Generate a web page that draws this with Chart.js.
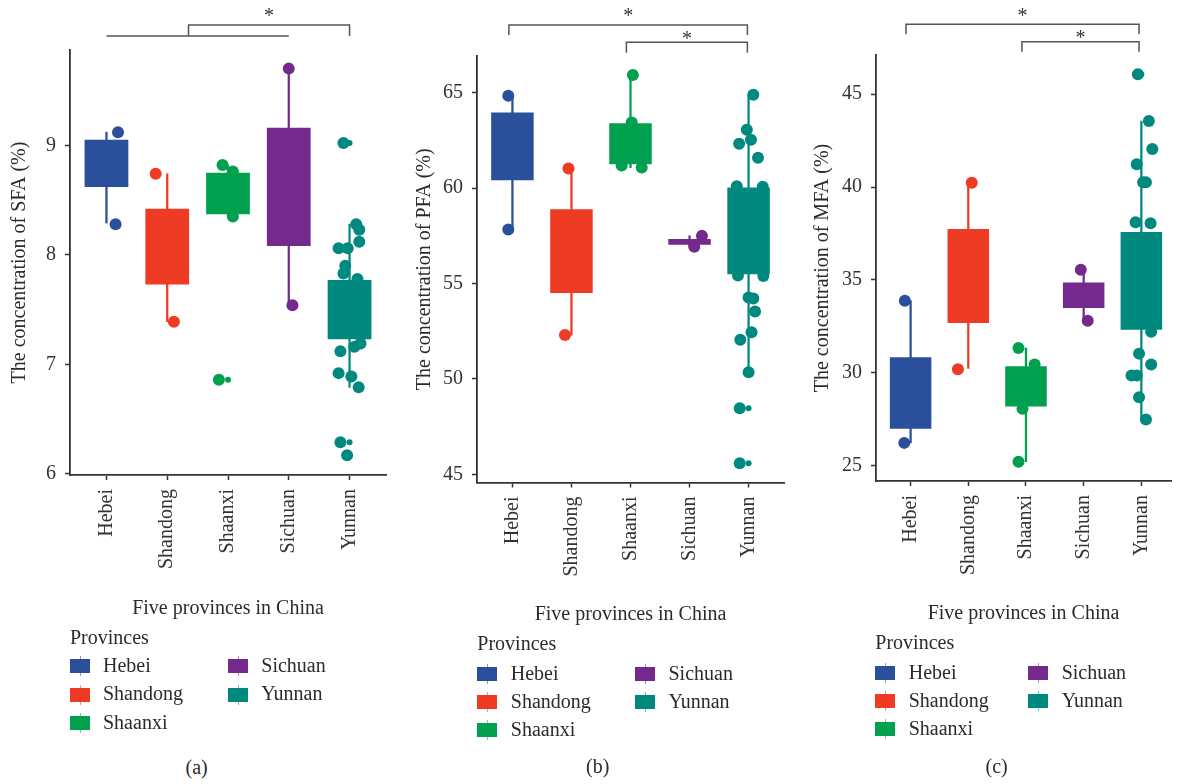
<!DOCTYPE html>
<html>
<head>
<meta charset="utf-8">
<title>Fatty acid composition in five provinces</title>
<script src="https://cdn.jsdelivr.net/npm/chart.js@4.4.1/dist/chart.umd.min.js"></script>
<style>
  html, body { margin: 0; padding: 0; background: #fff; }
  body {
    width: 1177px; height: 784px; position: relative; overflow: hidden;
    font-family: "Liberation Serif", "Times New Roman", serif; color: #2b2b2b;
  }
  canvas.panel { position: absolute; top: 0; }
  .txt { position: absolute; font-size: 20px; line-height: 24px; height: 24px; white-space: nowrap; }
  .key { position: absolute; width: 20px; height: 14px; }
  .key .stem { position: absolute; left: 9.5px; top: -3px; width: 1px; height: 20px; opacity: 0.55; }
</style>
</head>
<body>
<canvas id="sfa" class="panel" width="400" height="640" style="left:0px"></canvas>
<canvas id="pfa" class="panel" width="400" height="640" style="left:390px"></canvas>
<canvas id="mfa" class="panel" width="387" height="640" style="left:790px"></canvas>
<div id="legends"></div>

<script>
// ---- categories and colours ----
const provinces = ['Hebei', 'Shandong', 'Shaanxi', 'Sichuan', 'Yunnan'];
const provinceColors = ['#2A509C', '#EE3B24', '#00A04E', '#742A8C', '#00897F'];

// ---- (a) saturated fatty acids, % ----
const sfaTicks = [6, 7, 8, 9];
const sfaQ1 = [8.62, 7.73, 8.37, 8.08, 7.23];
const sfaQ3 = [9.05, 8.42, 8.75, 9.16, 7.77];
const sfaWhiskerLow = [8.29, 7.39, 8.36, 7.54, 6.79];
const sfaWhiskerHigh = [9.12, 8.74, 8.82, 9.70, 8.28];
const sfaSamples = [
  [9.12, 8.28],
  [8.74, 7.39],
  [8.82, 8.76, 8.35, 6.86],
  [9.70, 7.54],
  [9.02, 8.28, 8.23, 8.12, 8.06, 8.06, 7.90, 7.83, 7.78, 7.19, 7.12, 7.16, 6.92, 6.89, 6.79, 6.29, 6.17]
];
const sfaJitter = [
  [0.19, 0.15],
  [-0.19, 0.11],
  [-0.09, 0.08, 0.08, -0.15],
  [0.00, 0.06],
  [-0.10, 0.11, 0.16, 0.16, -0.18, -0.03, -0.07, -0.10, 0.13, 0.18, -0.15, 0.08, -0.18, 0.03, 0.15, -0.15, -0.04]
];
const sfaOutliers = [[], [], [6.86], [], [9.02, 6.29, 6.17]];

// ---- (b) polyunsaturated fatty acids, % ----
const pfaTicks = [45, 50, 55, 60, 65];
const pfaQ1 = [60.42, 54.50, 61.26, 57.03, 55.49];
const pfaQ3 = [63.97, 58.90, 63.41, 57.34, 60.03];
const pfaWhiskerLow = [57.83, 52.30, 61.08, 56.93, 50.35];
const pfaWhiskerHigh = [64.85, 61.03, 65.93, 57.50, 64.90];
const pfaSamples = [
  [64.85, 57.83],
  [61.03, 52.30],
  [65.93, 63.44, 61.19, 61.08],
  [57.50, 56.93],
  [64.90, 63.06, 62.54, 62.33, 61.60, 60.10, 60.08, 55.42, 55.40, 54.27, 54.22, 53.53, 52.45, 52.05, 50.35, 48.46, 45.58]
];
const pfaJitter = [
  [-0.07, -0.07],
  [-0.05, -0.11],
  [0.04, 0.02, -0.15, 0.19],
  [0.21, 0.08],
  [0.08, -0.03, 0.04, -0.16, 0.16, -0.20, 0.24, -0.18, 0.25, 0.00, 0.08, 0.11, 0.05, -0.14, 0.00, -0.15, -0.15]
];
const pfaOutliers = [[], [], [], [], [48.46, 45.58]];

// ---- (c) monounsaturated fatty acids, % ----
const mfaTicks = [25, 30, 35, 40, 45];
const mfaQ1 = [27.00, 32.69, 28.20, 33.49, 32.33];
const mfaQ3 = [30.84, 37.74, 30.36, 34.87, 37.58];
const mfaWhiskerLow = [26.24, 30.25, 25.23, 32.81, 27.50];
const mfaWhiskerHigh = [33.89, 40.23, 31.34, 35.55, 43.55];
const mfaSamples = [
  [33.89, 26.24],
  [40.23, 30.20],
  [31.34, 30.45, 28.08, 25.23],
  [35.55, 32.81],
  [46.07, 43.55, 42.04, 41.23, 40.25, 40.25, 38.10, 38.05, 32.22, 31.04, 30.45, 29.86, 29.86, 28.69, 27.50]
];
const mfaJitter = [
  [-0.10, -0.11],
  [0.06, -0.18],
  [-0.13, 0.15, -0.06, -0.13],
  [-0.05, 0.07],
  [-0.06, 0.13, 0.19, -0.08, 0.03, 0.08, -0.10, 0.16, 0.17, -0.04, 0.17, -0.17, -0.08, -0.04, 0.08]
];
const mfaOutliers = [[], [], [], [], [46.07]];

const xTitle = 'Five provinces in China';
const legendTitle = 'Provinces';

Chart.defaults.font.family = '"Liberation Serif", "Times New Roman", serif';
Chart.defaults.font.size = 20;
Chart.defaults.color = '#333';

// Significance brackets drawn above the plot area, anchored to the x scale
const sigBrackets = {
  id: 'sigBrackets',
  afterDraw(chart, args, opts) {
    const ctx = chart.ctx;
    const x = chart.scales.x;
    ctx.save();
    ctx.strokeStyle = '#555';
    ctx.lineWidth = 1.5;
    (opts.lines || []).forEach(l => {
      ctx.beginPath();
      ctx.moveTo(x.getPixelForValue(l.from), l.y);
      ctx.lineTo(x.getPixelForValue(l.to), l.y);
      ctx.stroke();
    });
    ctx.fillStyle = '#333';
    ctx.font = '20px "Liberation Serif", serif';
    ctx.textAlign = 'center';
    ctx.textBaseline = 'alphabetic';
    (opts.brackets || []).forEach(b => {
      const x1 = x.getPixelForValue(b.from);
      const x2 = x.getPixelForValue(b.to);
      ctx.beginPath();
      ctx.moveTo(x1, b.foot);
      ctx.lineTo(x1, b.top);
      ctx.lineTo(x2, b.top);
      ctx.lineTo(x2, b.foot);
      ctx.stroke();
      ctx.fillText('*', (x1 + x2) / 2, b.starY);
    });
    ctx.restore();
  }
};

function boxDatasets(q1, q3, wLo, wHi, samples, jitter, outliers) {
  const sets = [];
  provinces.forEach((name, i) => {
    sets.push({
      type: 'scatter',
      label: name,
      data: samples[i].map((v, k) => ({ x: i + jitter[i][k], y: v })),
      backgroundColor: provinceColors[i],
      borderWidth: 0,
      pointRadius: 6,
      order: 3
    });
  });
  sets.push({
    type: 'bar',
    label: 'whisker',
    data: provinces.map((p, i) => ({ x: i, y: [wLo[i], wHi[i]] })),
    backgroundColor: provinceColors,
    borderWidth: 0,
    barThickness: 1.6,
    grouped: false,
    order: 2
  });
  sets.push({
    type: 'bar',
    label: 'box',
    data: provinces.map((p, i) => ({ x: i, y: [q1[i], q3[i]] })),
    backgroundColor: provinceColors,
    borderWidth: 0,
    categoryPercentage: 1,
    barPercentage: 0.72,
    grouped: false,
    order: 1
  });
  sets.push({
    type: 'scatter',
    label: 'outlier',
    data: outliers.flatMap((arr, i) => arr.map(v => ({ x: i, y: v }))),
    backgroundColor: outliers.flatMap((arr, i) => arr.map(() => provinceColors[i])),
    borderWidth: 0,
    pointRadius: 3,
    order: 0
  });
  return sets;
}

function makePanel(id, p) {
  new Chart(document.getElementById(id), {
    type: 'scatter',
    data: { datasets: boxDatasets(p.q1, p.q3, p.wLo, p.wHi, p.samples, p.jitter, p.outliers) },
    options: {
      responsive: false,
      animation: false,
      events: [],
      layout: { padding: { top: p.top, right: p.padRight, left: 0, bottom: 0 } },
      plugins: {
        legend: { display: false },
        tooltip: { enabled: false },
        sigBrackets: { lines: p.lines, brackets: p.brackets }
      },
      scales: {
        x: {
          type: 'linear',
          min: -0.6,
          max: p.xMax,
          offset: false,
          afterBuildTicks: s => { s.ticks = provinces.map((c, i) => ({ value: i })); },
          afterFit: s => { s.height = p.xHeight; },
          ticks: {
            callback: v => provinces[v],
            minRotation: 90, maxRotation: 90, autoSkip: false,
            padding: 9, color: '#333', font: { size: 20 }
          },
          grid: { offset: false, drawOnChartArea: false, drawTicks: true, tickLength: 5, tickWidth: 1.5, tickColor: '#333' },
          border: { display: true, color: '#333', width: 1.8 },
          title: { display: true, text: xTitle, color: '#2b2b2b', font: { size: 20 }, padding: { bottom: p.xTitlePad } }
        },
        y: {
          type: 'linear',
          min: p.yMin,
          max: p.yMax,
          afterBuildTicks: s => { s.ticks = p.ticks.map(v => ({ value: v })); },
          afterFit: s => { s.width = p.yWidth; },
          ticks: { padding: 9, color: '#333', font: { size: 20 } },
          grid: { drawOnChartArea: false, drawTicks: true, tickLength: 5, tickWidth: 1.5, tickColor: '#333' },
          border: { display: true, color: '#333', width: 1.8 },
          title: { display: true, text: p.yTitle, color: '#2b2b2b', font: { size: 20 }, padding: { top: p.yTitlePad } }
        }
      }
    },
    plugins: [sigBrackets]
  });
}

makePanel('sfa', {
  q1: sfaQ1, q3: sfaQ3, wLo: sfaWhiskerLow, wHi: sfaWhiskerHigh,
  samples: sfaSamples, jitter: sfaJitter, outliers: sfaOutliers, ticks: sfaTicks,
  yMin: 5.99, yMax: 9.87, xMax: 4.6,
  top: 50, padRight: 14, yWidth: 70, xHeight: 165, xTitlePad: 19, yTitlePad: 8,
  yTitle: 'The concentration of SFA (%)',
  lines: [{ from: 0, to: 3, y: 36 }],
  brackets: [{ from: 1.35, to: 4, top: 25, foot: 36, starY: 22 }]
});

makePanel('pfa', {
  q1: pfaQ1, q3: pfaQ3, wLo: pfaWhiskerLow, wHi: pfaWhiskerHigh,
  samples: pfaSamples, jitter: pfaJitter, outliers: pfaOutliers, ticks: pfaTicks,
  yMin: 44.57, yMax: 66.93, xMax: 4.6,
  top: 56, padRight: 5.5, yWidth: 87, xHeight: 157.5, xTitlePad: 13, yTitlePad: 23,
  yTitle: 'The concentration of PFA (%)',
  lines: [],
  brackets: [
    { from: -0.06, to: 3.98, top: 25, foot: 35, starY: 22 },
    { from: 1.93, to: 3.98, top: 42.3, foot: 52.7, starY: 45 }
  ]
});

makePanel('mfa', {
  q1: mfaQ1, q3: mfaQ3, wLo: mfaWhiskerLow, wHi: mfaWhiskerHigh,
  samples: mfaSamples, jitter: mfaJitter, outliers: mfaOutliers, ticks: mfaTicks,
  yMin: 24.19, yMax: 47.1, xMax: 4.514,
  top: 55, padRight: 0, yWidth: 86, xHeight: 159, xTitlePad: 14, yTitlePad: 21,
  yTitle: 'The concentration of MFA (%)',
  lines: [],
  brackets: [
    { from: -0.08, to: 3.96, top: 24.3, foot: 34.3, starY: 22 },
    { from: 1.93, to: 3.96, top: 41.7, foot: 51.7, starY: 44 }
  ]
});

// ---- HTML legends and panel captions ----
const host = document.getElementById('legends');
function addText(text, left, baseline, center) {
  const d = document.createElement('div');
  d.className = 'txt';
  d.textContent = text;
  d.style.top = (baseline - 18.75) + 'px';
  d.style.left = left + 'px';
  if (center) d.style.transform = 'translateX(-50%)';
  host.appendChild(d);
}
function addLegend(L) {
  addText(legendTitle, L.keyX, L.titleBase, false);
  provinces.forEach((name, i) => {
    const col = i < 3 ? 0 : 1;
    const row = i < 3 ? i : i - 3;
    const kx = col === 0 ? L.keyX : L.col2X;
    const base = L.rowBase + row * L.rowGap;
    const key = document.createElement('div');
    key.className = 'key';
    key.style.left = kx + 'px';
    key.style.top = (base - 12.3) + 'px';
    key.style.background = provinceColors[i];
    const stem = document.createElement('div');
    stem.className = 'stem';
    stem.style.background = provinceColors[i];
    key.appendChild(stem);
    host.appendChild(key);
    addText(name, kx + L.textDX, base, false);
  });
  addText(L.caption, L.capX, L.capBase, true);
}
addLegend({ keyX: 70, col2X: 228.3, textDX: 33, titleBase: 644, rowBase: 671.7, rowGap: 28.4, caption: '(a)', capX: 196.7, capBase: 773.5 });
addLegend({ keyX: 477.3, col2X: 635, textDX: 33.5, titleBase: 649.3, rowBase: 679.3, rowGap: 28.2, caption: '(b)', capX: 597.7, capBase: 773 });
addLegend({ keyX: 875.3, col2X: 1028.3, textDX: 33.4, titleBase: 648.7, rowBase: 678.3, rowGap: 28, caption: '(c)', capX: 996.7, capBase: 773 });
</script>
</body>
</html>
